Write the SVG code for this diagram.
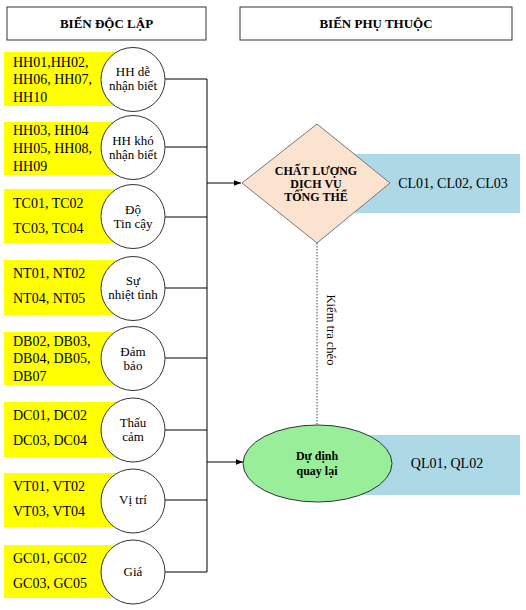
<svg xmlns="http://www.w3.org/2000/svg" width="526" height="610" viewBox="0 0 526 610" font-family="'Liberation Serif', 'Times New Roman', serif">
<style>
text{fill:#000}
.hdr{fill:#fff;stroke:#333;stroke-width:1}
.ht{font-size:13px;font-weight:bold;text-anchor:middle}
.yb{fill:#ffff00}
.yt{font-size:14px}
.cir{fill:#fff;stroke:#333;stroke-width:1}
.ct{font-size:13px;text-anchor:middle}
.bb{fill:#add8e6}
.bt{font-size:14px;text-anchor:middle}
.ln{fill:none;stroke:#000;stroke-width:1}
.bold{font-size:12px;font-weight:bold;text-anchor:middle}
</style>
<defs>
<marker id="ah" viewBox="0 0 10 10" refX="10" refY="5" markerWidth="7" markerHeight="7" markerUnits="userSpaceOnUse" orient="auto">
<path d="M0,1 L10,5 L0,9 z" fill="#000"/>
</marker>
</defs>
<g id="hdr-left"><rect class="hdr" x="7" y="7" width="199" height="33"/><text class="ht" x="106.5" y="28">BIẾN ĐỘC LẬP</text></g>
<g id="hdr-right"><rect class="hdr" x="240" y="7" width="272" height="33"/><text class="ht" x="376" y="28">BIẾN PHỤ THUỘC</text></g>

<g id="connectors">
<path class="ln" d="M165,79 H207 M165,147 H207 M165,217 H207 M165,288 H207 M165,358 H207 M165,430 H207 M165,500 H207 M165,572 H207 M207,79 V572"/>
<line class="ln" x1="207" y1="183" x2="241" y2="183" marker-end="url(#ah)"/>
<line class="ln" x1="207" y1="462" x2="243" y2="462" marker-end="url(#ah)"/>
<line x1="317" y1="243" x2="317" y2="425" stroke="#444" stroke-width="1" stroke-dasharray="1.5,1.5"/>
<text font-size="12.5" transform="translate(327,330) rotate(90)" text-anchor="middle">Kiểm tra chéo</text>
</g>

<g id="n1"><rect class="yb" x="4" y="52" width="120" height="54"/><text class="yt" x="13" y="67">HH01,HH02,</text><text class="yt" x="13" y="84">HH06, HH07,</text><text class="yt" x="13" y="102">HH10</text>
<circle class="cir" cx="133" cy="79.5" r="32"/><text class="ct" x="133" y="76">HH dễ</text><text class="ct" x="133" y="90">nhận biết</text></g>
<g id="n2"><rect class="yb" x="4" y="122" width="120" height="53"/><text class="yt" x="13" y="135">HH03, HH04</text><text class="yt" x="13" y="153">HH05, HH08,</text><text class="yt" x="13" y="171">HH09</text>
<circle class="cir" cx="133" cy="147.5" r="32"/><text class="ct" x="133" y="145">HH khó</text><text class="ct" x="133" y="159">nhận biết</text></g>
<g id="n3"><rect class="yb" x="4" y="189" width="120" height="54"/><text class="yt" x="13" y="208">TC01, TC02</text><text class="yt" x="13" y="233">TC03, TC04</text>
<circle class="cir" cx="133" cy="216.5" r="32"/><text class="ct" x="133" y="214">Độ</text><text class="ct" x="133" y="228">Tin cậy</text></g>
<g id="n4"><rect class="yb" x="4" y="260" width="120" height="55"/><text class="yt" x="13" y="278">NT01, NT02</text><text class="yt" x="13" y="303">NT04, NT05</text>
<circle class="cir" cx="133" cy="288.5" r="32"/><text class="ct" x="133" y="285">Sự</text><text class="ct" x="133" y="299">nhiệt tình</text></g>
<g id="n5"><rect class="yb" x="4" y="332" width="120" height="53"/><text class="yt" x="13" y="346">DB02, DB03,</text><text class="yt" x="13" y="363">DB04, DB05,</text><text class="yt" x="13" y="381">DB07</text>
<circle class="cir" cx="133" cy="358.5" r="32"/><text class="ct" x="133" y="356">Đảm</text><text class="ct" x="133" y="370">bảo</text></g>
<g id="n6"><rect class="yb" x="4" y="402" width="120" height="55"/><text class="yt" x="13" y="420">DC01, DC02</text><text class="yt" x="13" y="445">DC03, DC04</text>
<circle class="cir" cx="133" cy="430" r="32"/><text class="ct" x="133" y="427">Thấu</text><text class="ct" x="133" y="441">cảm</text></g>
<g id="n7"><rect class="yb" x="4" y="473" width="120" height="54"/><text class="yt" x="13" y="491">VT01, VT02</text><text class="yt" x="13" y="516">VT03, VT04</text>
<circle class="cir" cx="133" cy="501" r="32"/><text class="ct" x="133" y="504">Vị trí</text></g>
<g id="n8"><rect class="yb" x="4" y="545" width="120" height="53"/><text class="yt" x="13" y="563">GC01, GC02</text><text class="yt" x="13" y="588">GC03, GC05</text>
<circle class="cir" cx="133" cy="572" r="32"/><text class="ct" x="133" y="576">Giá</text></g>

<g id="cl"><rect class="bb" x="350" y="154" width="170" height="59"/>
<polygon points="317,124 390,183 317,243 242,183" fill="#fbe3d0" stroke="#777" stroke-width="1"/>
<text class="bold" x="316" y="175">CHẤT LƯỢNG</text><text class="bold" x="316" y="188">DỊCH VỤ</text><text class="bold" x="316" y="201">TỔNG THỂ</text>
<text class="bt" x="453" y="188">CL01, CL02, CL03</text></g>

<g id="ql"><rect class="bb" x="350" y="435" width="170" height="60"/>
<ellipse cx="317.5" cy="463.5" rx="74.5" ry="38.5" fill="#99ee99" stroke="#333" stroke-width="1"/>
<text class="bold" x="317" y="460">Dự định</text><text class="bold" x="317" y="475">quay lại</text>
<text class="bt" x="447" y="468">QL01, QL02</text></g>
</svg>
